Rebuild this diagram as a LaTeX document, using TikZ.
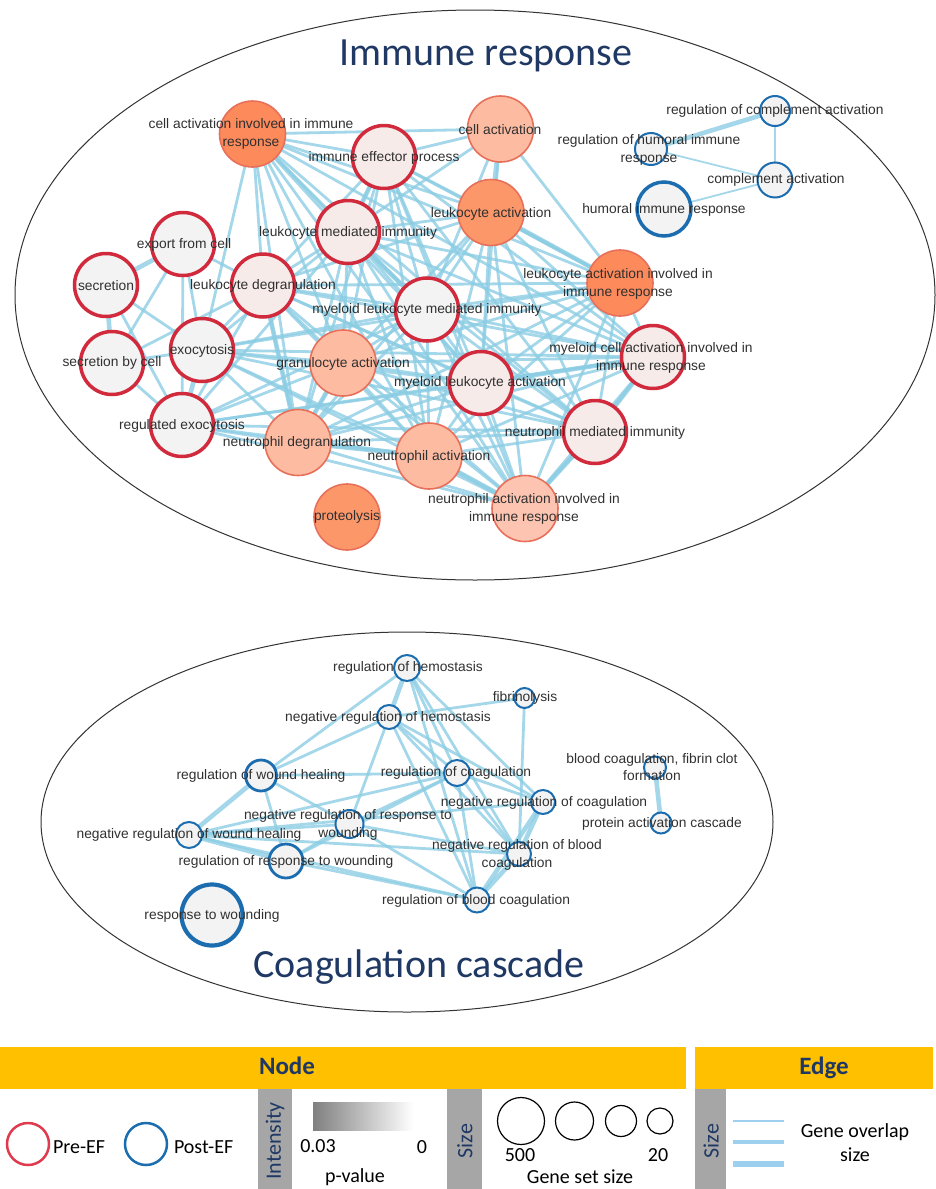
\documentclass[tikz,border=0pt]{standalone}
\usepackage{fontspec}
\setmainfont{Liberation Sans}
\newfontfamily\calibri{Carlito}
\usetikzlibrary{backgrounds}
\definecolor{navy}{HTML}{1F3864}
\definecolor{prered}{HTML}{D12A3D}
\definecolor{legred}{HTML}{E03A4E}
\definecolor{postblue}{HTML}{1C6DAF}
\definecolor{linkblue}{HTML}{8CCDE3}
\definecolor{legblue}{HTML}{9DD0EE}
\definecolor{nodegray}{HTML}{F3F3F3}
\definecolor{pinkfill}{HTML}{F6EBE8}
\definecolor{salmon}{HTML}{FDBBA2}
\definecolor{salmonpale}{HTML}{FDC5B1}
\definecolor{orangeA}{HTML}{FC8A5B}
\definecolor{orangeB}{HTML}{FC976A}
\definecolor{orangerim}{HTML}{E8705A}
\definecolor{barorange}{HTML}{FFC000}
\definecolor{stripgray}{HTML}{A6A6A6}
\definecolor{labtext}{HTML}{303030}
\tikzset{
  pre/.style={circle, draw=prered, line width=3.5pt, minimum size=63pt, fill=pinkfill},
  hot/.style={circle, draw=orangerim, line width=1.6pt, minimum size=66pt},
  post/.style={circle, draw=postblue, line width=2pt, fill=nodegray},
  lab/.style={text=labtext, font=\fontsize{13.8}{17.5}\selectfont, align=center},
  link/.style={draw=linkblue, line width=2.8pt, opacity=0.8},
  linkw/.style={link, line width=4.6pt},
  linkn/.style={link, line width=1.8pt},
  title/.style={text=navy, font=\calibri\fontsize{40}{44}\selectfont},
  legtext/.style={font=\calibri\fontsize{20}{24}\selectfont},
  strip/.style={fill=stripgray, draw=none},
  striptext/.style={text=navy, font=\calibri\fontsize{22}{24}\selectfont, rotate=90}
}
\begin{document}
\begin{tikzpicture}[y=1pt, x=1pt, yscale=-1, inner sep=0pt, outer sep=0pt]
\useasboundingbox (0,0) rectangle (936,1189);

% group outlines
\draw[line width=1pt, black!80] (475,295) ellipse [x radius=460pt, y radius=285pt];
\draw[line width=1pt, black!80] (407,822) ellipse [x radius=366pt, y radius=190pt];
\node[title] (ttl1) at (486,56) {Immune response};
\node[title] (ttl2) at (419,967) {Coagulation cascade};

% immune response nodes
\node[hot, fill=orangeA] (caiir) at (252.5,134) {};
\node[pre] (iep) at (384,157) {};
\node[hot, fill=salmon] (ca) at (500.5,129) {};
\node[hot, fill=orangeB] (la) at (491,212.5) {};
\node[pre] (lmi) at (348,232) {};
\node[pre, fill=nodegray] (efc) at (183,244) {};
\node[pre, fill=nodegray] (sec) at (106,285) {};
\node[pre] (ld) at (263,285.5) {};
\node[pre, fill=nodegray] (mlmi) at (427,309.5) {};
\node[hot, fill=orangeA] (laiir) at (620,283) {};
\node[pre] (mcaiir) at (653,357) {};
\node[pre, fill=nodegray] (sbc) at (112,363) {};
\node[pre, fill=nodegray] (exo) at (202,350) {};
\node[hot, fill=salmon] (ga) at (343,363) {};
\node[pre] (mla) at (481,383) {};
\node[pre, fill=nodegray] (rexo) at (182,425) {};
\node[hot, fill=salmon] (nd) at (298,442.5) {};
\node[hot, fill=salmon] (na) at (429,456) {};
\node[pre] (nmi) at (595,432) {};
\node[hot, fill=salmonpale] (naiir) at (525,508.5) {};
\node[hot, fill=orangeB] (prot) at (347,517) {};
\node[post, minimum size=30pt] (rca) at (775,111) {};
\node[post, minimum size=32pt] (rhir) at (651,149) {};
\node[post, minimum size=35pt] (compa) at (775,180) {};
\node[post, line width=3.5pt, minimum size=54pt] (hir) at (664,209) {};

% coagulation nodes
\node[post, minimum size=26pt] (rh) at (407,668) {};
\node[post, minimum size=24pt] (nrh) at (389,717) {};
\node[post, minimum size=20pt] (fib) at (524.5,698) {};
\node[post, line width=2.8pt, minimum size=31pt] (rwh) at (261,775.5) {};
\node[post, minimum size=26pt] (rc) at (457,773) {};
\node[post, minimum size=24pt] (nrc) at (543,802) {};
\node[post, minimum size=28pt] (nrrw) at (349.5,824) {};
\node[post, minimum size=26pt] (nrwh) at (189,835) {};
\node[post, line width=2.8pt, minimum size=34pt] (rrw) at (286,861) {};
\node[post, minimum size=24pt] (nrbc) at (519,854) {};
\node[post, minimum size=25pt] (rbc) at (477,900) {};
\node[post, minimum size=22pt] (bcf) at (655,767.5) {};
\node[post, minimum size=21pt] (pac) at (661,823) {};
\node[post, line width=4.2pt, minimum size=61pt] (rw) at (212,915) {};

\begin{scope}[on background layer]
  \def\immlist{caiir,iep,la,lmi,ld,mlmi,laiir,mcaiir,ga,mla,nd,na,nmi,naiir}
  \foreach \a [count=\i] in \immlist {
    \foreach \b [count=\j] in \immlist {
      \ifnum\j>\i \draw[link] (\a) -- (\b); \fi
    }
  }
  \foreach \a/\b in {ca/caiir, ca/iep, ca/laiir, ca/lmi, ca/mla, ca/mlmi,
      sec/exo, sec/rexo, efc/sbc, efc/exo, efc/rexo, sbc/exo, sbc/rexo,
      exo/caiir, exo/ld, exo/lmi, exo/mlmi, exo/ga, exo/mla, exo/nd, exo/na,
      exo/nmi, exo/naiir, exo/mcaiir, exo/laiir,
      rexo/ld, rexo/lmi, rexo/mlmi, rexo/ga, rexo/mla, rexo/nd, rexo/na,
      rexo/nmi, rexo/naiir, rexo/mcaiir, sbc/ld, efc/ld}
    \draw[link] (\a) -- (\b);
  \foreach \a/\b in {ca/la, sec/sbc, sec/efc, exo/rexo, nmi/naiir, nmi/mcaiir,
      ga/nd, nd/na, na/naiir, mla/mcaiir, lmi/mlmi, la/laiir, ld/nd, iep/lmi,
      rca/rhir}
    \draw[linkw] (\a) -- (\b);
  \draw[link] (rca) -- (compa);
  \foreach \a/\b in {rhir/compa, compa/hir}
    \draw[linkn] (\a) -- (\b);
  % coagulation links
  \foreach \a/\b in {rh/rwh, rh/rc, rh/nrc, rh/nrbc, rh/rbc,
      nrh/fib, nrh/rwh, nrh/rc, nrh/nrc, nrh/nrbc, nrh/rbc, nrh/nrrw,
      fib/nrbc, rwh/rc, rwh/rrw, rwh/nrrw,
      nrwh/nrrw, nrwh/rc, nrwh/nrc, nrwh/nrbc, nrwh/rbc,
      rrw/nrrw, rrw/rc, rrw/rbc, nrrw/rc, nrrw/nrbc, nrrw/rbc,
      rc/nrc, rc/nrbc, rc/rbc}
    \draw[link] (\a) -- (\b);
  \foreach \a/\b in {rh/nrh, rwh/nrwh, nrwh/rrw, nrc/nrbc, nrc/rbc,
      nrbc/rbc, bcf/pac}
    \draw[linkw] (\a) -- (\b);
\end{scope}

% labels
\node[lab] (caiir-t) at (251,134) {cell activation involved in immune\\response};
\node[lab] (iep-t) at (384,158) {immune effector process};
\node[lab] (ca-t) at (500,130) {cell activation};
\node[lab] (la-t) at (491,214) {leukocyte activation};
\node[lab] (lmi-t) at (348,233) {leukocyte mediated immunity};
\node[lab] (efc-t) at (184,245) {export from cell};
\node[lab] (sec-t) at (106,286) {secretion};
\node[lab] (ld-t) at (263,286) {leukocyte degranulation};
\node[lab] (mlmi-t) at (427,310) {myeloid leukocyte mediated immunity};
\node[lab] (laiir-t) at (618,284) {leukocyte activation involved in\\immune response};
\node[lab] (mcaiir-t) at (651,358) {myeloid cell activation involved in\\immune response};
\node[lab] (sbc-t) at (112,363) {secretion by cell};
\node[lab] (exo-t) at (202,351) {exocytosis};
\node[lab] (ga-t) at (343,364) {granulocyte activation};
\node[lab] (mla-t) at (480,383) {myeloid leukocyte activation};
\node[lab] (rexo-t) at (182,426) {regulated exocytosis};
\node[lab] (nd-t) at (297,443) {neutrophil degranulation};
\node[lab] (na-t) at (429,457) {neutrophil activation};
\node[lab] (nmi-t) at (595,433) {neutrophil mediated immunity};
\node[lab] (naiir-t) at (524,509) {neutrophil activation involved in\\immune response};
\node[lab] (prot-t) at (347,517) {proteolysis};
\node[lab] (rca-t) at (775,111) {regulation of complement activation};
\node[lab] (rhir-t) at (649,150) {regulation of humoral immune\\response};
\node[lab] (compa-t) at (776,180) {complement activation};
\node[lab] (hir-t) at (664,210) {humoral immune response};
\node[lab] (rh-t) at (408,668) {regulation of hemostasis};
\node[lab] (nrh-t) at (388,718) {negative regulation of hemostasis};
\node[lab] (fib-t) at (525,698) {fibrinolysis};
\node[lab] (rwh-t) at (261,776) {regulation of wound healing};
\node[lab] (rc-t) at (456,773) {regulation of coagulation};
\node[lab] (nrc-t) at (544,803) {negative regulation of coagulation};
\node[lab] (nrrw-t) at (348,825) {negative regulation of response to\\wounding};
\node[lab] (nrwh-t) at (189,835) {negative regulation of wound healing};
\node[lab] (rrw-t) at (286,862) {regulation of response to wounding};
\node[lab] (nrbc-t) at (517,855) {negative regulation of blood\\coagulation};
\node[lab] (rbc-t) at (476,901) {regulation of blood coagulation};
\node[lab] (bcf-t) at (652,767) {blood coagulation, fibrin clot\\formation};
\node[lab] (pac-t) at (662,824) {protein activation cascade};
\node[lab] (rw-t) at (212,916) {response to wounding};

% legend
\fill[barorange] (0,1047) rectangle (686,1089);
\fill[barorange] (695,1047) rectangle (933,1089);
\node[text=navy, font=\calibri\bfseries\fontsize{25}{28}\selectfont] (nodehd) at (287,1066) {Node};
\node[text=navy, font=\calibri\bfseries\fontsize{25}{28}\selectfont] (edgehd) at (824,1068) {Edge};
\fill[strip] (258,1089) rectangle (292,1189);
\fill[strip] (447,1089) rectangle (482,1189);
\fill[strip] (695,1089) rectangle (726,1189);
\node[striptext] (intens) at (275,1141) {Intensity};
\node[striptext] (size1) at (465,1141) {Size};
\node[striptext] (size2) at (711,1141) {Size};
\node[circle, draw=legred, line width=2.5pt, minimum size=42pt] (preleg) at (28,1144) {};
\node[legtext, anchor=west] (pret) at (53,1147) {Pre-EF};
\node[circle, draw=postblue, line width=2.5pt, minimum size=42pt] (postleg) at (146,1144) {};
\node[legtext, anchor=west] (postt) at (174,1147) {Post-EF};
\shade[left color=black!50, right color=white] (313,1102) rectangle (413,1130);
\node[legtext] (pmax) at (318,1146) {0.03};
\node[legtext] (pmin) at (422,1147) {0};
\node[legtext] (pval) at (355,1177) {p-value};
\node[circle, draw=black, line width=1.2pt, minimum size=47pt] (s500) at (521,1121) {};
\node[circle, draw=black, line width=1.2pt, minimum size=38pt] (s300) at (574.5,1121) {};
\node[circle, draw=black, line width=1.2pt, minimum size=31pt] (s100) at (621,1121) {};
\node[circle, draw=black, line width=1.2pt, minimum size=26pt] (s20) at (660,1121) {};
\node[legtext] (t500) at (520,1155) {500};
\node[legtext] (t20) at (658,1155) {20};
\node[legtext] (gss) at (580,1177) {Gene set size};
\coordinate (la1) at (733,1121); \coordinate (lb1) at (784,1121);
\coordinate (la2) at (733,1142); \coordinate (lb2) at (784,1142);
\coordinate (la3) at (733,1164); \coordinate (lb3) at (784,1164);
\draw[draw=legblue, line width=2.5pt] (la1) -- (lb1);
\draw[draw=legblue, line width=3.8pt] (la2) -- (lb2);
\draw[draw=legblue, line width=5.2pt] (la3) -- (lb3);
\node[legtext, align=center, font=\calibri\fontsize{20}{24}\selectfont] (gos) at (855,1143) {Gene overlap\\size};
\end{tikzpicture}
\end{document}
